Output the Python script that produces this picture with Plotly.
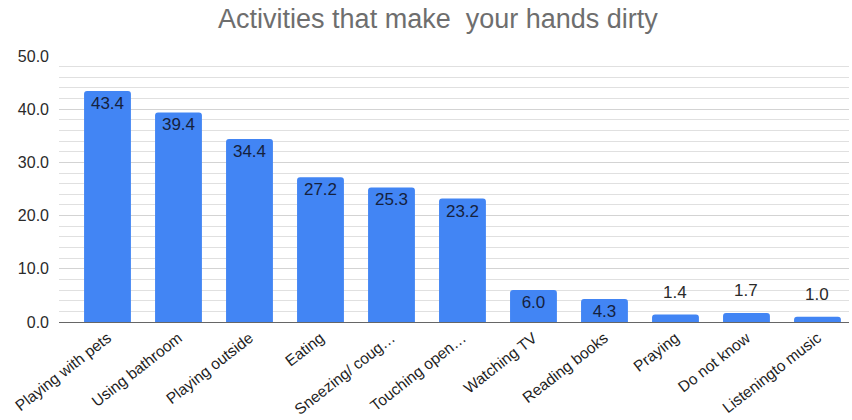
import plotly.graph_objects as go

# Survey answers: activities that make your hands dirty (percent of respondents)
activities = [
    "Playing with pets",
    "Using bathroom",
    "Playing outside",
    "Eating",
    "Sneezing/ coug…",
    "Touching open…",
    "Watching TV",
    "Reading books",
    "Praying",
    "Do not know",
    "Listeningto music",
]
percentages = [43.4, 39.4, 34.4, 27.2, 25.3, 23.2, 6.0, 4.3, 1.4, 1.7, 1.0]
y_tick_values = [0, 10, 20, 30, 40, 50]

BAR_BLUE = "#4285f4"
FONT = "Liberation Sans, Arial, sans-serif"

# labels sit inside tall bars, above short ones
inside = [v >= 4 for v in percentages]
labels = [f"{v:.1f}" for v in percentages]

fig = go.Figure(
    go.Bar(
        x=activities,
        y=percentages,
        text=[t if ok else "" for t, ok in zip(labels, inside)],
        textposition=["inside" if ok else "none" for ok in inside],
        insidetextanchor="end",
        constraintext="none",
        textfont=dict(family=FONT, size=17, color="#15213d"),
        marker=dict(color=BAR_BLUE, cornerradius=3, line=dict(width=0)),
        hoverinfo="x+y",
    )
)

for name, v, ok in zip(activities, percentages, inside):
    if not ok:
        fig.add_annotation(
            x=name, y=v, text=f"{v:.1f}", showarrow=False,
            yanchor="middle", yshift=22,
            font=dict(family=FONT, size=17, color="#2a2a2a"),
        )

fig.update_layout(
    width=852,
    height=420,
    margin=dict(l=59, r=3, t=56, b=98, autoexpand=False),
    paper_bgcolor="white",
    plot_bgcolor="white",
    bargap=0.34,
    showlegend=False,
    title=dict(
        text="Activities that make\u00a0\u00a0your hands dirty",
        x=0.514, xanchor="center", y=0.955, yanchor="middle",
        font=dict(family=FONT, size=27, color="#6e6e6e"),
    ),
    xaxis=dict(
        type="category",
        range=[-0.683, 10.444],
        automargin=False,
        tickangle=-38,
        tickfont=dict(family=FONT, size=15.5, color="#1e1e1e"),
        showgrid=False,
        showline=True,
        linecolor="#666666",
        linewidth=1.2,
        ticks="",
    ),
    yaxis=dict(
        range=[0, 50],
        automargin=False,
        tickvals=y_tick_values,
        tickformat=".1f",
        tickfont=dict(family=FONT, size=16, color="#2a2a2a"),
        ticklabelstandoff=9,
        showgrid=True,
        gridcolor="#d3d3d3",
        gridwidth=1,
        zeroline=False,
        minor=dict(dtick=2, showgrid=True, gridcolor="#e0e0e0", gridwidth=1),
        ticks="",
    ),
)

fig.write_html("out.html")
